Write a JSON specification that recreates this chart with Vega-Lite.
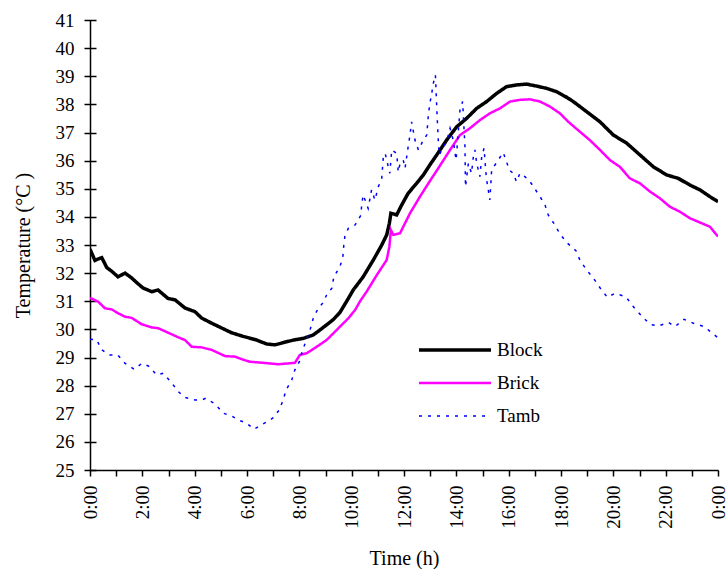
{
  "$schema": "https://vega.github.io/schema/vega-lite/v6.json",
  "width": 628,
  "height": 450,
  "autosize": {"type": "none"},
  "padding": {"left": 90, "top": 20, "right": 8, "bottom": 99},
  "config": {
    "view": {"stroke": null},
    "font": "Liberation Serif",
    "axis": {
      "domainColor": "#000",
      "domainWidth": 1.5,
      "tickColor": "#000",
      "tickWidth": 1.5,
      "labelColor": "#000",
      "titleColor": "#000",
      "labelFont": "Liberation Serif",
      "titleFont": "Liberation Serif",
      "labelFontSize": 19,
      "titleFontSize": 20,
      "titleFontWeight": "normal",
      "grid": false
    },
    "legend": {
      "labelFont": "Liberation Serif",
      "labelFontSize": 19,
      "labelColor": "#000"
    }
  },
  "data": {
    "values": [
      {"series": "Block", "time": 0.0, "temp": 32.85},
      {"series": "Block", "time": 0.19, "temp": 32.45},
      {"series": "Block", "time": 0.3, "temp": 32.5},
      {"series": "Block", "time": 0.45, "temp": 32.55},
      {"series": "Block", "time": 0.64, "temp": 32.2},
      {"series": "Block", "time": 0.85, "temp": 32.05},
      {"series": "Block", "time": 1.07, "temp": 31.87},
      {"series": "Block", "time": 1.34, "temp": 32.0},
      {"series": "Block", "time": 1.59, "temp": 31.83},
      {"series": "Block", "time": 1.8, "temp": 31.65},
      {"series": "Block", "time": 2.03, "temp": 31.47},
      {"series": "Block", "time": 2.36, "temp": 31.34},
      {"series": "Block", "time": 2.6, "temp": 31.4},
      {"series": "Block", "time": 2.98, "temp": 31.1},
      {"series": "Block", "time": 3.25, "temp": 31.05},
      {"series": "Block", "time": 3.63, "temp": 30.76},
      {"series": "Block", "time": 4.01, "temp": 30.63},
      {"series": "Block", "time": 4.27, "temp": 30.4},
      {"series": "Block", "time": 4.65, "temp": 30.22},
      {"series": "Block", "time": 5.03, "temp": 30.05},
      {"series": "Block", "time": 5.41, "temp": 29.88},
      {"series": "Block", "time": 5.86, "temp": 29.75},
      {"series": "Block", "time": 6.37, "temp": 29.62},
      {"series": "Block", "time": 6.75, "temp": 29.48},
      {"series": "Block", "time": 7.07, "temp": 29.45},
      {"series": "Block", "time": 7.39, "temp": 29.53},
      {"series": "Block", "time": 7.77, "temp": 29.62},
      {"series": "Block", "time": 8.15, "temp": 29.68},
      {"series": "Block", "time": 8.53, "temp": 29.8},
      {"series": "Block", "time": 8.79, "temp": 29.98},
      {"series": "Block", "time": 9.04, "temp": 30.16},
      {"series": "Block", "time": 9.3, "temp": 30.35},
      {"series": "Block", "time": 9.55, "temp": 30.6},
      {"series": "Block", "time": 9.81, "temp": 31.0},
      {"series": "Block", "time": 10.06, "temp": 31.4},
      {"series": "Block", "time": 10.44, "temp": 31.87},
      {"series": "Block", "time": 10.83, "temp": 32.47},
      {"series": "Block", "time": 11.15, "temp": 33.0},
      {"series": "Block", "time": 11.34, "temp": 33.36},
      {"series": "Block", "time": 11.44, "temp": 33.77},
      {"series": "Block", "time": 11.5, "temp": 34.13},
      {"series": "Block", "time": 11.72, "temp": 34.07},
      {"series": "Block", "time": 11.91, "temp": 34.42},
      {"series": "Block", "time": 12.16, "temp": 34.84},
      {"series": "Block", "time": 12.48, "temp": 35.19},
      {"series": "Block", "time": 12.74, "temp": 35.49},
      {"series": "Block", "time": 12.99, "temp": 35.85},
      {"series": "Block", "time": 13.25, "temp": 36.2},
      {"series": "Block", "time": 13.63, "temp": 36.73},
      {"series": "Block", "time": 14.01, "temp": 37.2},
      {"series": "Block", "time": 14.39, "temp": 37.5},
      {"series": "Block", "time": 14.78, "temp": 37.86},
      {"series": "Block", "time": 15.16, "temp": 38.1},
      {"series": "Block", "time": 15.54, "temp": 38.39},
      {"series": "Block", "time": 15.92, "temp": 38.63},
      {"series": "Block", "time": 16.3, "temp": 38.69},
      {"series": "Block", "time": 16.69, "temp": 38.72},
      {"series": "Block", "time": 17.07, "temp": 38.65},
      {"series": "Block", "time": 17.45, "temp": 38.57},
      {"series": "Block", "time": 17.83, "temp": 38.45},
      {"series": "Block", "time": 18.22, "temp": 38.25},
      {"series": "Block", "time": 18.47, "temp": 38.1},
      {"series": "Block", "time": 18.98, "temp": 37.74},
      {"series": "Block", "time": 19.49, "temp": 37.38},
      {"series": "Block", "time": 20.0, "temp": 36.91},
      {"series": "Block", "time": 20.51, "temp": 36.62},
      {"series": "Block", "time": 21.02, "temp": 36.2},
      {"series": "Block", "time": 21.53, "temp": 35.78},
      {"series": "Block", "time": 22.04, "temp": 35.49},
      {"series": "Block", "time": 22.48, "temp": 35.37},
      {"series": "Block", "time": 22.93, "temp": 35.13},
      {"series": "Block", "time": 23.31, "temp": 34.96},
      {"series": "Block", "time": 23.69, "temp": 34.72},
      {"series": "Block", "time": 24.0, "temp": 34.54},

      {"series": "Brick", "time": 0.0, "temp": 31.12},
      {"series": "Brick", "time": 0.32, "temp": 30.98},
      {"series": "Brick", "time": 0.57, "temp": 30.75},
      {"series": "Brick", "time": 0.83, "temp": 30.71},
      {"series": "Brick", "time": 1.08, "temp": 30.57},
      {"series": "Brick", "time": 1.34, "temp": 30.45},
      {"series": "Brick", "time": 1.59, "temp": 30.41},
      {"series": "Brick", "time": 1.98, "temp": 30.18},
      {"series": "Brick", "time": 2.36, "temp": 30.07},
      {"series": "Brick", "time": 2.61, "temp": 30.04},
      {"series": "Brick", "time": 2.99, "temp": 29.88},
      {"series": "Brick", "time": 3.37, "temp": 29.72},
      {"series": "Brick", "time": 3.63, "temp": 29.62},
      {"series": "Brick", "time": 3.89, "temp": 29.38},
      {"series": "Brick", "time": 4.27, "temp": 29.36},
      {"series": "Brick", "time": 4.65, "temp": 29.27},
      {"series": "Brick", "time": 5.16, "temp": 29.05},
      {"series": "Brick", "time": 5.54, "temp": 29.03},
      {"series": "Brick", "time": 5.86, "temp": 28.92},
      {"series": "Brick", "time": 6.11, "temp": 28.85},
      {"series": "Brick", "time": 6.62, "temp": 28.81},
      {"series": "Brick", "time": 7.19, "temp": 28.76},
      {"series": "Brick", "time": 7.58, "temp": 28.79},
      {"series": "Brick", "time": 7.83, "temp": 28.81},
      {"series": "Brick", "time": 8.02, "temp": 29.09},
      {"series": "Brick", "time": 8.28, "temp": 29.15},
      {"series": "Brick", "time": 8.66, "temp": 29.38},
      {"series": "Brick", "time": 9.04, "temp": 29.62},
      {"series": "Brick", "time": 9.3, "temp": 29.86},
      {"series": "Brick", "time": 9.62, "temp": 30.16},
      {"series": "Brick", "time": 9.87, "temp": 30.39},
      {"series": "Brick", "time": 10.13, "temp": 30.69},
      {"series": "Brick", "time": 10.32, "temp": 31.0},
      {"series": "Brick", "time": 10.57, "temp": 31.34},
      {"series": "Brick", "time": 10.96, "temp": 31.93},
      {"series": "Brick", "time": 11.34, "temp": 32.47},
      {"series": "Brick", "time": 11.44, "temp": 32.94},
      {"series": "Brick", "time": 11.5, "temp": 33.53},
      {"series": "Brick", "time": 11.59, "temp": 33.36},
      {"series": "Brick", "time": 11.85, "temp": 33.42},
      {"series": "Brick", "time": 12.23, "temp": 34.13},
      {"series": "Brick", "time": 12.61, "temp": 34.72},
      {"series": "Brick", "time": 12.93, "temp": 35.19},
      {"series": "Brick", "time": 13.31, "temp": 35.73},
      {"series": "Brick", "time": 13.76, "temp": 36.38},
      {"series": "Brick", "time": 14.14, "temp": 36.91},
      {"series": "Brick", "time": 14.52, "temp": 37.15},
      {"series": "Brick", "time": 14.9, "temp": 37.44},
      {"series": "Brick", "time": 15.28, "temp": 37.68},
      {"series": "Brick", "time": 15.67, "temp": 37.86},
      {"series": "Brick", "time": 16.05, "temp": 38.1},
      {"series": "Brick", "time": 16.43, "temp": 38.16},
      {"series": "Brick", "time": 16.81, "temp": 38.18},
      {"series": "Brick", "time": 17.2, "temp": 38.1},
      {"series": "Brick", "time": 17.58, "temp": 37.92},
      {"series": "Brick", "time": 17.96, "temp": 37.68},
      {"series": "Brick", "time": 18.28, "temp": 37.38},
      {"series": "Brick", "time": 18.72, "temp": 37.03},
      {"series": "Brick", "time": 19.1, "temp": 36.73},
      {"series": "Brick", "time": 19.49, "temp": 36.38},
      {"series": "Brick", "time": 19.87, "temp": 36.02},
      {"series": "Brick", "time": 20.25, "temp": 35.78},
      {"series": "Brick", "time": 20.63, "temp": 35.37},
      {"series": "Brick", "time": 21.02, "temp": 35.19},
      {"series": "Brick", "time": 21.4, "temp": 34.9},
      {"series": "Brick", "time": 21.78, "temp": 34.66},
      {"series": "Brick", "time": 22.16, "temp": 34.36},
      {"series": "Brick", "time": 22.55, "temp": 34.18},
      {"series": "Brick", "time": 22.93, "temp": 33.95},
      {"series": "Brick", "time": 23.31, "temp": 33.8},
      {"series": "Brick", "time": 23.69, "temp": 33.65},
      {"series": "Brick", "time": 24.0, "temp": 33.3},

      {"series": "Tamb", "time": 0.0, "temp": 29.65},
      {"series": "Tamb", "time": 0.26, "temp": 29.62},
      {"series": "Tamb", "time": 0.45, "temp": 29.27},
      {"series": "Tamb", "time": 0.76, "temp": 29.09},
      {"series": "Tamb", "time": 1.06, "temp": 29.09},
      {"series": "Tamb", "time": 1.34, "temp": 28.79},
      {"series": "Tamb", "time": 1.69, "temp": 28.58},
      {"series": "Tamb", "time": 1.98, "temp": 28.79},
      {"series": "Tamb", "time": 2.23, "temp": 28.7},
      {"series": "Tamb", "time": 2.55, "temp": 28.38},
      {"series": "Tamb", "time": 2.8, "temp": 28.44},
      {"series": "Tamb", "time": 3.12, "temp": 28.1},
      {"series": "Tamb", "time": 3.37, "temp": 27.79},
      {"series": "Tamb", "time": 3.63, "temp": 27.58},
      {"series": "Tamb", "time": 4.01, "temp": 27.49},
      {"series": "Tamb", "time": 4.27, "temp": 27.49},
      {"series": "Tamb", "time": 4.42, "temp": 27.55},
      {"series": "Tamb", "time": 4.78, "temp": 27.35},
      {"series": "Tamb", "time": 5.09, "temp": 27.02},
      {"series": "Tamb", "time": 5.41, "temp": 26.92},
      {"series": "Tamb", "time": 5.67, "temp": 26.78},
      {"series": "Tamb", "time": 5.99, "temp": 26.66},
      {"series": "Tamb", "time": 6.27, "temp": 26.45},
      {"series": "Tamb", "time": 6.62, "temp": 26.64},
      {"series": "Tamb", "time": 6.98, "temp": 26.84},
      {"series": "Tamb", "time": 7.23, "temp": 27.13},
      {"series": "Tamb", "time": 7.39, "temp": 27.51},
      {"series": "Tamb", "time": 7.49, "temp": 27.84},
      {"series": "Tamb", "time": 7.71, "temp": 28.2},
      {"series": "Tamb", "time": 7.83, "temp": 28.56},
      {"series": "Tamb", "time": 8.0, "temp": 28.85},
      {"series": "Tamb", "time": 8.09, "temp": 29.15},
      {"series": "Tamb", "time": 8.22, "temp": 29.5},
      {"series": "Tamb", "time": 8.41, "temp": 29.98},
      {"series": "Tamb", "time": 8.53, "temp": 30.39},
      {"series": "Tamb", "time": 8.72, "temp": 30.75},
      {"series": "Tamb", "time": 8.91, "temp": 30.95},
      {"series": "Tamb", "time": 9.04, "temp": 31.22},
      {"series": "Tamb", "time": 9.24, "temp": 31.46},
      {"series": "Tamb", "time": 9.32, "temp": 31.87},
      {"series": "Tamb", "time": 9.55, "temp": 32.23},
      {"series": "Tamb", "time": 9.66, "temp": 32.55},
      {"series": "Tamb", "time": 9.7, "temp": 33.0},
      {"series": "Tamb", "time": 9.74, "temp": 33.3},
      {"series": "Tamb", "time": 9.87, "temp": 33.59},
      {"series": "Tamb", "time": 10.13, "temp": 33.71},
      {"series": "Tamb", "time": 10.36, "temp": 34.07},
      {"series": "Tamb", "time": 10.38, "temp": 34.42},
      {"series": "Tamb", "time": 10.44, "temp": 34.78},
      {"series": "Tamb", "time": 10.63, "temp": 34.3},
      {"series": "Tamb", "time": 10.76, "temp": 34.96},
      {"series": "Tamb", "time": 10.89, "temp": 34.6},
      {"series": "Tamb", "time": 11.02, "temp": 35.07},
      {"series": "Tamb", "time": 11.15, "temp": 35.37},
      {"series": "Tamb", "time": 11.21, "temp": 36.14},
      {"series": "Tamb", "time": 11.28, "temp": 36.26},
      {"series": "Tamb", "time": 11.4, "temp": 35.78},
      {"series": "Tamb", "time": 11.46, "temp": 35.55},
      {"series": "Tamb", "time": 11.53, "temp": 36.38},
      {"series": "Tamb", "time": 11.72, "temp": 36.26},
      {"series": "Tamb", "time": 11.78, "temp": 35.6},
      {"series": "Tamb", "time": 11.85, "temp": 35.9},
      {"series": "Tamb", "time": 11.97, "temp": 36.02},
      {"series": "Tamb", "time": 12.04, "temp": 35.73},
      {"series": "Tamb", "time": 12.16, "temp": 36.5},
      {"series": "Tamb", "time": 12.23, "temp": 36.91},
      {"series": "Tamb", "time": 12.29, "temp": 37.38},
      {"series": "Tamb", "time": 12.42, "temp": 36.73},
      {"series": "Tamb", "time": 12.55, "temp": 36.38},
      {"series": "Tamb", "time": 12.74, "temp": 36.73},
      {"series": "Tamb", "time": 12.87, "temp": 36.91},
      {"series": "Tamb", "time": 12.93, "temp": 37.62},
      {"series": "Tamb", "time": 12.99, "temp": 38.04},
      {"series": "Tamb", "time": 13.06, "temp": 38.39},
      {"series": "Tamb", "time": 13.12, "temp": 38.75},
      {"series": "Tamb", "time": 13.2, "temp": 39.04},
      {"series": "Tamb", "time": 13.27, "temp": 37.5},
      {"series": "Tamb", "time": 13.31, "temp": 36.73},
      {"series": "Tamb", "time": 13.35, "temp": 36.2},
      {"series": "Tamb", "time": 13.44, "temp": 36.38},
      {"series": "Tamb", "time": 13.63, "temp": 36.67},
      {"series": "Tamb", "time": 13.76, "temp": 37.15},
      {"series": "Tamb", "time": 13.88, "temp": 36.73},
      {"series": "Tamb", "time": 13.99, "temp": 36.02},
      {"series": "Tamb", "time": 14.07, "temp": 36.97},
      {"series": "Tamb", "time": 14.14, "temp": 37.8},
      {"series": "Tamb", "time": 14.24, "temp": 38.1},
      {"series": "Tamb", "time": 14.29, "temp": 37.2},
      {"series": "Tamb", "time": 14.33, "temp": 36.5},
      {"series": "Tamb", "time": 14.34, "temp": 35.78},
      {"series": "Tamb", "time": 14.35, "temp": 35.07},
      {"series": "Tamb", "time": 14.46, "temp": 35.9},
      {"series": "Tamb", "time": 14.58, "temp": 35.55},
      {"series": "Tamb", "time": 14.65, "temp": 36.14},
      {"series": "Tamb", "time": 14.71, "temp": 36.38},
      {"series": "Tamb", "time": 14.78, "temp": 35.9},
      {"series": "Tamb", "time": 14.9, "temp": 35.43},
      {"series": "Tamb", "time": 14.97, "temp": 36.14},
      {"series": "Tamb", "time": 15.06, "temp": 36.44},
      {"series": "Tamb", "time": 15.12, "temp": 35.67},
      {"series": "Tamb", "time": 15.16, "temp": 35.31},
      {"series": "Tamb", "time": 15.22, "temp": 34.96},
      {"series": "Tamb", "time": 15.28, "temp": 34.6},
      {"series": "Tamb", "time": 15.35, "temp": 35.67},
      {"series": "Tamb", "time": 15.56, "temp": 35.96},
      {"series": "Tamb", "time": 15.79, "temp": 36.29},
      {"series": "Tamb", "time": 15.92, "temp": 35.96},
      {"series": "Tamb", "time": 16.02, "temp": 35.67},
      {"series": "Tamb", "time": 16.17, "temp": 35.55},
      {"series": "Tamb", "time": 16.3, "temp": 35.25},
      {"series": "Tamb", "time": 16.43, "temp": 35.55},
      {"series": "Tamb", "time": 16.62, "temp": 35.43},
      {"series": "Tamb", "time": 16.79, "temp": 35.29},
      {"series": "Tamb", "time": 16.97, "temp": 35.04},
      {"series": "Tamb", "time": 17.2, "temp": 34.72},
      {"series": "Tamb", "time": 17.39, "temp": 34.42},
      {"series": "Tamb", "time": 17.51, "temp": 34.07},
      {"series": "Tamb", "time": 17.77, "temp": 33.71},
      {"series": "Tamb", "time": 17.96, "temp": 33.39},
      {"series": "Tamb", "time": 18.25, "temp": 33.06},
      {"series": "Tamb", "time": 18.57, "temp": 32.8},
      {"series": "Tamb", "time": 18.72, "temp": 32.47},
      {"series": "Tamb", "time": 18.98, "temp": 32.11},
      {"series": "Tamb", "time": 19.24, "temp": 31.82},
      {"series": "Tamb", "time": 19.49, "temp": 31.48},
      {"series": "Tamb", "time": 19.77, "temp": 31.14},
      {"series": "Tamb", "time": 20.06, "temp": 31.28},
      {"series": "Tamb", "time": 20.48, "temp": 31.16},
      {"series": "Tamb", "time": 20.76, "temp": 30.81},
      {"series": "Tamb", "time": 21.08, "temp": 30.48},
      {"series": "Tamb", "time": 21.4, "temp": 30.18},
      {"series": "Tamb", "time": 21.72, "temp": 30.12},
      {"series": "Tamb", "time": 22.1, "temp": 30.25},
      {"series": "Tamb", "time": 22.36, "temp": 30.1},
      {"series": "Tamb", "time": 22.7, "temp": 30.36},
      {"series": "Tamb", "time": 23.06, "temp": 30.22},
      {"series": "Tamb", "time": 23.47, "temp": 30.1},
      {"series": "Tamb", "time": 23.84, "temp": 29.82},
      {"series": "Tamb", "time": 24.0, "temp": 29.7}
    ]
  },
  "mark": {"type": "line", "clip": true},
  "encoding": {
    "x": {
      "field": "time",
      "type": "quantitative",
      "scale": {"domain": [0, 24], "nice": false, "zero": false},
      "axis": {
        "title": "Time (h)",
        "values": [0, 1, 2, 3, 4, 5, 6, 7, 8, 9, 10, 11, 12, 13, 14, 15, 16, 17, 18, 19, 20, 21, 22, 23, 24],
        "labelExpr": "datum.value % 2 == 0 ? (datum.value % 24) + ':00' : ''",
        "labelAngle": 270,
        "labelOverlap": false,
        "labelFlush": false,
        "labelBound": false,
        "tickSize": 6,
        "labelPadding": 9,
        "titlePadding": 20,
        "grid": true,
        "gridColor": "#000",
        "gridWidth": 1.5,
        "gridOpacity": {"condition": {"test": "datum.value == 0", "value": 1}, "value": 0}
      }
    },
    "y": {
      "field": "temp",
      "type": "quantitative",
      "scale": {"domain": [25, 41], "nice": false, "zero": false},
      "axis": {
        "title": "Temperature (°C )",
        "values": [25, 26, 27, 28, 29, 30, 31, 32, 33, 34, 35, 36, 37, 38, 39, 40, 41],
        "domain": false,
        "offset": -6,
        "tickSize": 12,
        "labelPadding": 10,
        "labelFlush": false,
        "labelOverlap": false,
        "labelBound": false,
        "titlePadding": 22
      }
    },
    "color": {
      "field": "series",
      "type": "nominal",
      "scale": {"domain": ["Block", "Brick", "Tamb"], "range": ["#000000", "#ff00ff", "#0000ff"]},
      "legend": {
        "title": null,
        "orient": "none",
        "legendX": 345,
        "legendY": 310,
        "symbolType": "M-2,0H2",
        "symbolSize": 1296,
        "rowPadding": 3.5,
        "labelOffset": 22,
        "padding": 0
      }
    },
    "strokeWidth": {
      "field": "series",
      "type": "nominal",
      "scale": {"domain": ["Block", "Brick", "Tamb"], "range": [3.5, 1.5, 2]}
    },
    "strokeDash": {
      "field": "series",
      "type": "nominal",
      "scale": {"domain": ["Block", "Brick", "Tamb"], "range": [[1, 0], [1, 0], [3, 6]]}
    }
  }
}
